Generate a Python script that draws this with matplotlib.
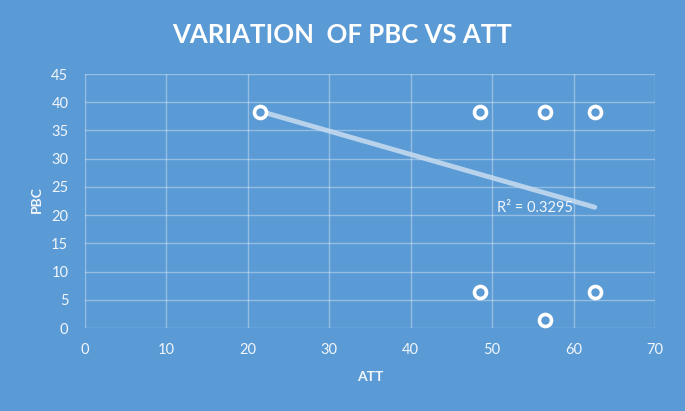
import matplotlib
matplotlib.use('Agg')
import matplotlib.pyplot as plt

plt.rcParams['font.family'] = ['Lato', 'DejaVu Sans']

att = [21.5, 48.5, 56.5, 62.6, 48.5, 56.5, 62.6]
pbc = [38.3, 38.3, 38.3, 38.3, 6.4, 1.4, 6.4]

trend_x = [21.5, 62.6]
trend_y = [38.4, 21.4]
r2_label = 'R² = 0.3295'

xticks = [0, 10, 20, 30, 40, 50, 60, 70]
yticks = [0, 5, 10, 15, 20, 25, 30, 35, 40, 45]

bg = '#5B9BD5'
txt = '#F2F6FB'

fig = plt.figure(figsize=(6.85, 4.11), dpi=100, facecolor=bg)
ax = fig.add_axes([85/685, 1 - 328/411, 570/685, 254/411])
ax.set_facecolor(bg)

ax.set_xlim(0, 70)
ax.set_ylim(0, 45)
ax.set_xticks(xticks)
ax.set_yticks(yticks)
ax.grid(True, color='white', alpha=0.35, lw=1)
ax.set_axisbelow(True)
for s in ax.spines.values():
    s.set_visible(False)
ax.tick_params(length=0, colors=txt, labelsize=10.5)
ax.tick_params(axis='x', pad=11)
ax.tick_params(axis='y', pad=12)

ax.plot(trend_x, trend_y, color='#C9DDF1', lw=3.5, alpha=0.85,
        solid_capstyle='round', zorder=2)
ax.scatter(att, pbc, s=75, facecolors=bg, edgecolors='white',
           linewidths=2.6, zorder=3)
ax.text(50.6, 21.3, r2_label, color=txt, fontsize=10.5, va='center', ha='left')

fig.text(370/685, 1 - 377/411, 'ATT', color=txt, fontsize=10, fontweight='bold',
         ha='center', va='center')
fig.text(37/685, 1 - 200/411, 'PBC', color=txt, fontsize=10, fontweight='bold',
         ha='center', va='center', rotation=90)

fig.text(0.5, 1 - 35/411, 'VARIATION  OF PBC VS ATT',
         color='white', fontsize=18.5, fontweight='bold', ha='center', va='center')

fig.savefig('out.png', dpi=100, facecolor=bg)
